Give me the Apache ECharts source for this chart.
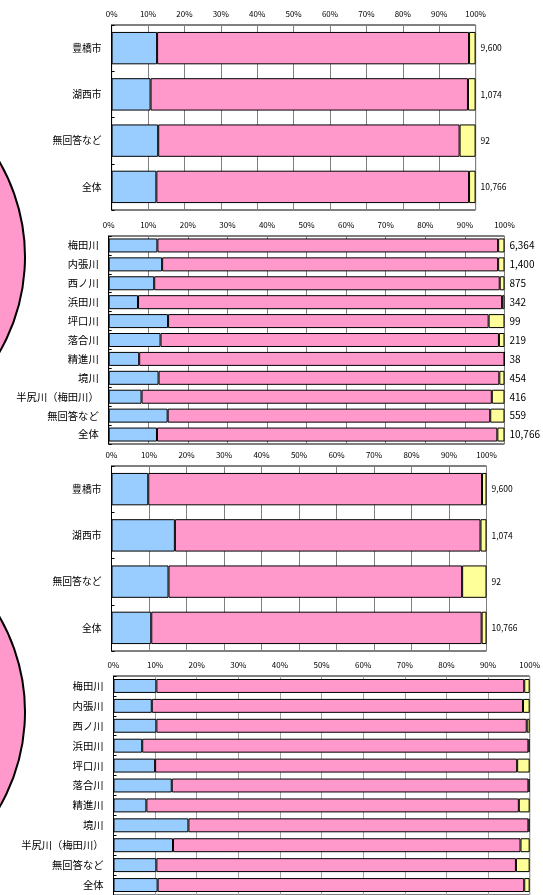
<!DOCTYPE html>
<html><head><meta charset="utf-8">
<script src="https://cdn.jsdelivr.net/npm/echarts@6/dist/echarts.min.js"></script>
<style>html,body{margin:0;padding:0;background:#fff}#c{width:543px;height:895px}</style>
</head><body><div id="c"></div>
<script>
const cities = ['豊橋市','湖西市','無回答など','全体'];
const rivers = ['梅田川','内張川','西ノ川','浜田川','坪口川','落合川','精進川','境川','半尻川（梅田川）','無回答など','全体'];
const cityCounts = ['9,600','1,074','92','10,766'];
const riverCounts = ['6,364','1,400','875','342','99','219','38','454','416','559','10,766'];
const tickLabels = ['0%','10%','20%','30%','40%','50%','60%','70%','80%','90%','100%'];

const p1Blue = [12.5,10.7,12.8,12.3];
const p1Pink = [85.7,87.2,82.8,85.9];
const p1Yellow = [1.8,2.1,4.4,1.8];

const p2Blue = [12.3,13.5,11.5,7.4,15.0,13.1,7.7,12.6,8.3,14.9,12.2];
const p2Pink = [86.1,84.9,87.3,92.0,81.0,85.5,92.3,86.1,88.5,81.5,86.0];
const p2Yellow = [1.6,1.6,1.2,0.6,4.0,1.4,0.0,1.3,3.2,3.6,1.8];

const p3Blue = [9.8,16.9,15.2,10.6];
const p3Pink = [89.0,81.5,78.3,88.1];
const p3Yellow = [1.2,1.6,6.5,1.3];

const p4Blue = [10.3,9.2,10.3,6.9,10.0,14.0,7.9,18.0,14.3,10.3,10.6];
const p4Pink = [88.4,89.2,89.0,92.8,87.0,85.7,89.5,81.7,83.5,86.4,88.1];
const p4Yellow = [1.3,1.6,0.7,0.3,3.0,0.3,2.6,0.3,2.2,3.3,1.3];

const pie1 = [85.9,12.3,1.8];
const pie2 = [88.1,10.6,1.3];

const COLORS = ['#99CCFF','#FF99CC','#FFFF99'];
const FONT = '"Noto Sans CJK JP", "Noto Sans", sans-serif';

const chart = echarts.init(document.getElementById('c'), null, {renderer:'canvas'});

const grids = [
  {left:111.6, top:25, width:364, height:185},
  {left:108.7, top:236, width:399.5, height:208},
  {left:111.5, top:466, width:375, height:185},
  {left:113.5, top:676, width:424, height:225}
];
const panels = [
  {cats:cities, counts:cityCounts, d:[p1Blue,p1Pink,p1Yellow], catFont:9.8, cntFont:8.5, gap:'30%', grid:'#808080'},
  {cats:rivers, counts:riverCounts, d:[p2Blue,p2Pink,p2Yellow], catFont:10.3, cntFont:10, gap:'26%', grid:'#808080'},
  {cats:cities, counts:cityCounts, d:[p3Blue,p3Pink,p3Yellow], catFont:9.8, cntFont:8.5, gap:'30%', grid:'#808080'},
  {cats:rivers, counts:null, d:[p4Blue,p4Pink,p4Yellow], catFont:10.3, cntFont:10, gap:'30%', grid:'#a0a0a0'}
];

const xAxis = [], yAxis = [], series = [];
panels.forEach((p, i) => {
  xAxis.push({
    gridIndex:i, type:'value', min:0, max:100, interval:10, position:'top',
    axisLine:{show:false}, axisTick:{show:false},
    axisLabel:{formatter:(v)=>tickLabels[Math.round(v/10)], fontSize:8, color:'#000', fontFamily:FONT, margin:7},
    splitLine:{show:true, lineStyle:{color:p.grid, width:1}}
  });
  yAxis.push({
    gridIndex:i, type:'category', data:p.cats, inverse:true,
    axisLine:{show:true, lineStyle:{color:'#000', width:1}},
    axisTick:{show:true, inside:true, length:3, lineStyle:{color:'#000'}},
    axisLabel:{fontSize:p.catFont, color:'#000', fontFamily:FONT, margin:10}
  });
  const yi = yAxis.length - 1;
  if (p.counts) {
    yAxis.push({
      gridIndex:i, type:'category', data:p.counts, inverse:true, position:'right',
      axisLine:{show:false}, axisTick:{show:false},
      axisLabel:{fontSize:p.cntFont, color:'#000', fontFamily:FONT, margin:5}
    });
  }
  p.d.forEach((arr, k) => {
    series.push({
      type:'bar', xAxisIndex:i, yAxisIndex:yi, stack:'s'+i, data:arr,
      barCategoryGap:p.gap, silent:true,
      itemStyle:{color:COLORS[k], borderColor:'#000', borderWidth:1}
    });
  });
});

[[pie1,[-165,257]],[pie2,[-165,712]]].forEach(([vals,center]) => {
  series.push({
    type:'pie', center:center, radius:190, startAngle:154.5, clockwise:true,
    label:{show:false}, labelLine:{show:false}, silent:true,
    data:vals.map((v,k)=>({value:v, itemStyle:{color:[COLORS[1],COLORS[0],COLORS[2]][k]}})),
    itemStyle:{borderColor:'#000', borderWidth:2}
  });
});

chart.setOption({
  animation:false,
  grid:grids.map(g=>Object.assign({show:true, borderColor:'#000', borderWidth:1, backgroundColor:'#fff'}, g)),
  xAxis, yAxis, series
});
</script></body></html>
